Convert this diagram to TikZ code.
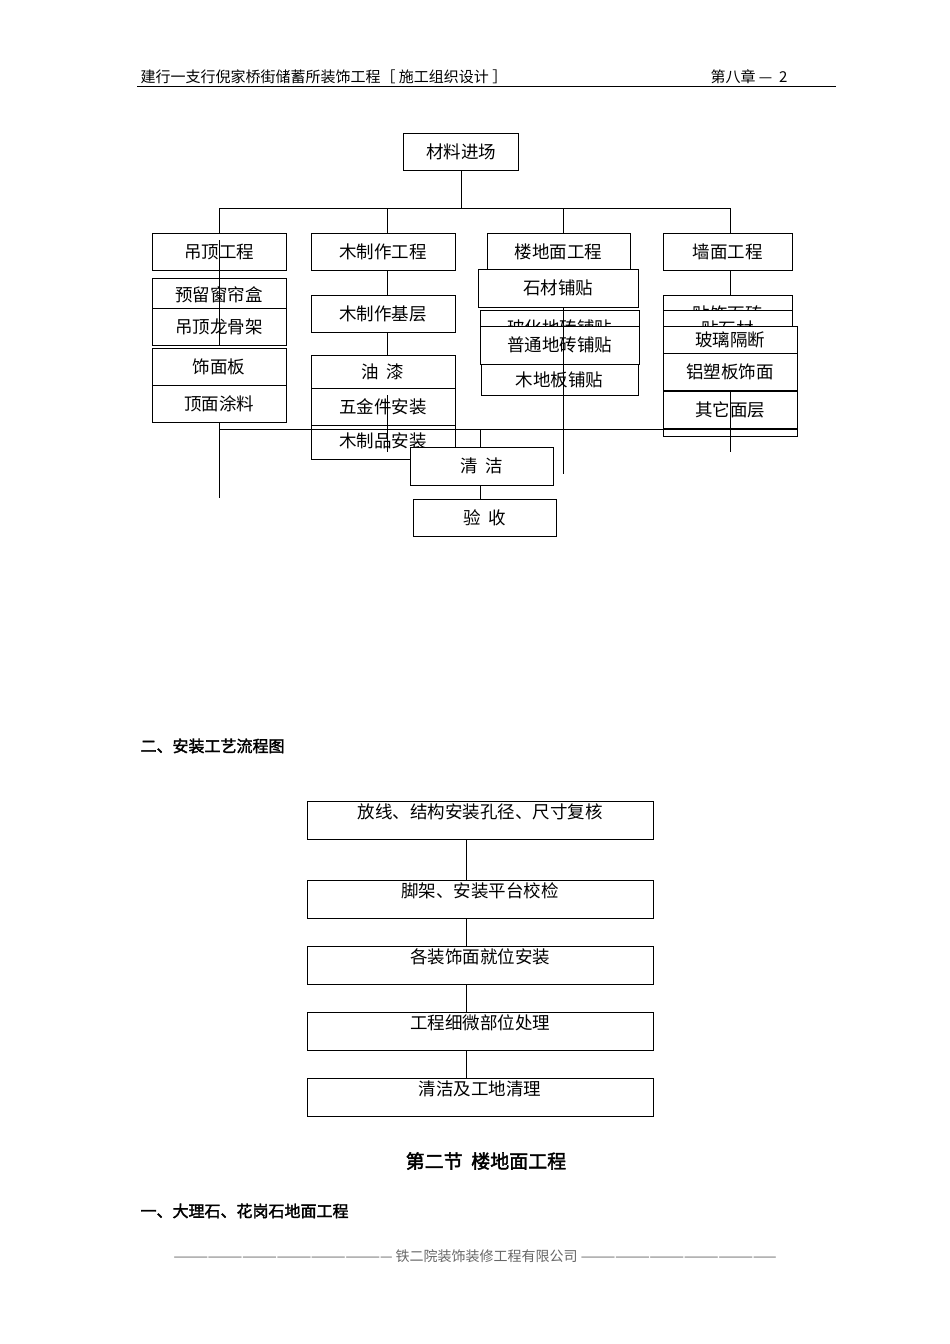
\documentclass[tikz,border=0pt]{standalone}
\usepackage{fontspec}
\newfontfamily\cjk{Noto Sans CJK SC}
\newfontfamily\cjkb[FakeBold=2]{Noto Sans CJK SC}
\tikzset{
    BX/.style ={rectangle,draw,thick,fill=white,inner sep=0pt,outer sep=0pt,font=\cjk\fontsize{17.5}{20}\selectfont},
    BT/.style ={BX,text depth=16pt},
    LN/.style ={thick}}
\begin{document}
\begin{tikzpicture}[x=1pt,y=-1pt]
\useasboundingbox (0,0) rectangle (950,1344);
% header
\node[anchor=base west,font=\cjk\itshape\fontsize{15}{18}\selectfont] (hd) at (137,82) {建行一支行倪家桥街储蓄所装饰工程［ 施工组织设计 ］};
\node[anchor=base west,font=\cjk\fontsize{15}{18}\selectfont] (ch) at (707,82) {第八章 —\ \ 2};
\draw (137,86) -- (836,86);
% top chart
\node[BX,minimum width=115pt,minimum height=37pt] (cl) at (461,151.5) {材料进场};
\node[BX,minimum width=134pt,minimum height=37pt] (a0) at (219,251.5) {吊顶工程};
\node[BX,minimum width=144pt,minimum height=37pt] (b0) at (383,251.5) {木制作工程};
\node[BX,minimum width=143pt,minimum height=37pt] (c0) at (558.5,251.5) {楼地面工程};
\node[BX,minimum width=129pt,minimum height=37pt] (d0) at (727.5,251.5) {墙面工程};
\node[BX,minimum width=134pt,minimum height=34pt] (a1) at (219,295) {预留窗帘盒};
\node[BX,minimum width=134pt,minimum height=37pt] (a2) at (219,326.5) {吊顶龙骨架};
\node[BX,minimum width=134pt,minimum height=37pt] (a3) at (219,366.5) {饰面板};
\node[BX,minimum width=134pt,minimum height=37pt] (a4) at (219,403.5) {顶面涂料};
\node[BX,minimum width=144pt,minimum height=37pt] (b1) at (383,313.5) {木制作基层};
\node[BX,minimum width=144pt,minimum height=37pt] (b4) at (383,441) {木制品安装};
\node[BX,minimum width=144pt,minimum height=33pt] (b2) at (383,372) {油\ \ 漆};
\node[BX,minimum width=144pt,minimum height=37pt] (b3) at (383,406.5) {五金件安装};
\node[BX,minimum width=157pt,minimum height=31pt] (c4) at (559.5,379.5) {木地板铺贴};
\node[BX,minimum width=159pt,minimum height=36pt] (c2) at (559.5,328) {玻化地砖铺贴};
\node[BX,minimum width=160pt,minimum height=38pt] (c1) at (558,288) {石材铺贴};
\node[BX,minimum width=159pt,minimum height=38pt] (c3) at (559.5,345) {普通地砖铺贴};
\node[BX,minimum width=129pt,minimum height=37pt] (d1) at (727.5,313.5) {贴饰面砖};
\node[BX,minimum width=129pt,minimum height=37pt] (d2) at (727.5,328.5) {贴石材};
\node[BX,minimum width=134pt,minimum height=37pt] (d5) at (730,418) {};
\node[BX,minimum width=134pt,minimum height=37pt] (d4) at (730,410) {其它面层};
\node[BX,minimum width=134pt,minimum height=28pt] (d3) at (730,340) {玻璃隔断};
\node[BX,minimum width=134pt,minimum height=37pt] (d3b) at (730,371.5) {铝塑板饰面};
\node[BX,minimum width=143pt,minimum height=38pt] (cq) at (481.5,466) {清\ \ 洁};
\node[BX,minimum width=143pt,minimum height=37pt] (ys) at (484.5,517.5) {验\ \ 收};
\coordinate (ml) at (461,208);
\coordinate (mb) at (480,429);
\draw[LN] (cl.south) -- (ml);
\draw[LN] (219,208) -- (730,208);
\draw[LN] (219,208) -- (219,233);
\draw[LN] (387,208) -- (387,233);
\draw[LN] (563,208) -- (563,233);
\draw[LN] (730,208) -- (730,233);
\draw[LN] (219,240) -- (219,345);
\draw[LN] (219,422) -- (219,498);
\draw[LN] (387,270) -- (387,295);
\draw[LN] (387,332) -- (387,356);
\draw[LN] (387,395) -- (387,452);
\draw[LN] (563,307) -- (563,474);
\draw[LN] (730,270) -- (730,295);
\draw[LN] (730,390) -- (730,452);
\draw[LN] (219,429) -- (797,429);
\draw[LN] (mb) -- (mb |- cq.north);
\draw[LN] (mb |- cq.south) -- (mb |- ys.north);
% second chart
\node[anchor=base west,font=\cjkb\fontsize{16}{19}\selectfont] (t2) at (137,752) {二、安装工艺流程图};
\foreach \n/\y/\t in {s1/820/放线、结构安装孔径、尺寸复核,s2/899/脚架、安装平台校检,s3/965/各装饰面就位安装,s4/1031/工程细微部位处理,s5/1097/清洁及工地清理}
  \node[BT,minimum width=346pt,minimum height=38pt,text height=14pt,text depth=18pt] (\n) at (480,\y) {\t};
\draw[LN] (466,839) -- (466,880);
\draw[LN] (466,918) -- (466,946);
\draw[LN] (466,984) -- (466,1012);
\draw[LN] (466,1050) -- (466,1078);
\node[font=\cjkb\fontsize{19}{22}\selectfont] (t3) at (486,1161) {第二节\ \ 楼地面工程};
\node[anchor=base west,font=\cjkb\fontsize{16}{19}\selectfont] (t4) at (137,1217) {一、大理石、花岗石地面工程};
\node[font=\cjk\fontsize{14}{17}\selectfont,text=black!60] (ft) at (475,1256) {———————————————————\ 铁二院装饰装修工程有限公司\ —————————————————};
\end{tikzpicture}
\end{document}
